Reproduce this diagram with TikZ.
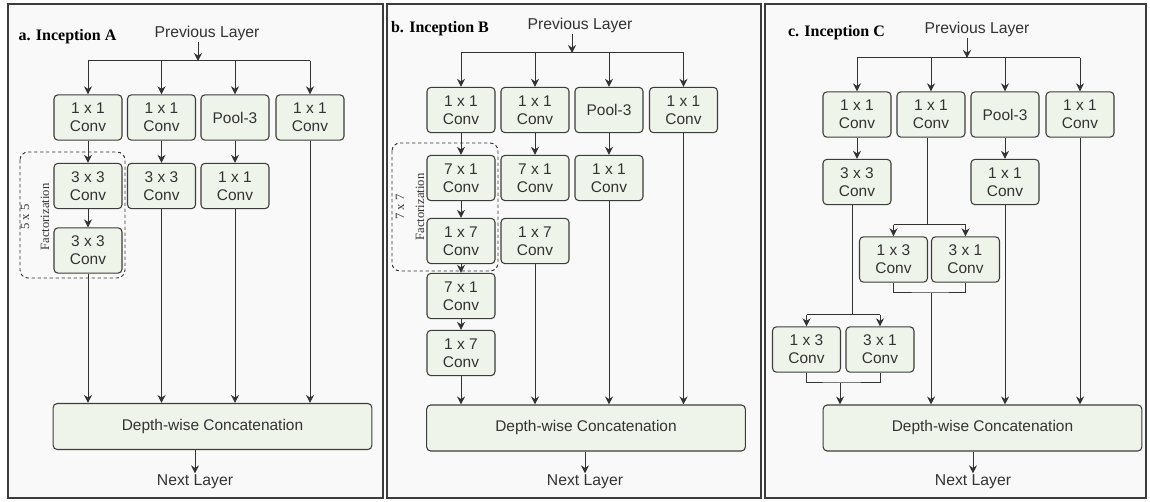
\documentclass[tikz,border=0pt]{standalone}
\usepackage{fontspec}
\setmainfont{Liberation Serif}
\setsansfont{Liberation Sans}
\usetikzlibrary{arrows.meta}

\definecolor{boxfill}{HTML}{EFF4EA}
\definecolor{boxline}{HTML}{3C3C3C}
\definecolor{panelfill}{HTML}{F9F9F9}
\definecolor{inkgray}{HTML}{333333}

\tikzset{
  panel/.style={draw=boxline, line width=1pt, fill=panelfill},
  conv/.style={draw=boxline, fill=boxfill, rounded corners=3pt, line width=0.8pt,
    minimum width=51pt, minimum height=34pt, align=center, inner sep=1pt,
    text=inkgray, font=\sffamily\fontsize{11.6}{13.5}\selectfont},
  concat/.style={conv, minimum width=239pt, minimum height=34.5pt},
  layer/.style={inner sep=1pt, text=inkgray, font=\sffamily\fontsize{11.8}{13}\selectfont},
  heading/.style={inner sep=0pt, font=\bfseries\fontsize{12}{13}\selectfont},
  group/.style={draw=inkgray, dash pattern=on 2.5pt off 2pt, rounded corners=6pt, line width=0.7pt},
  grouplbl/.style={rotate=90, align=center, text=inkgray, font=\fontsize{9.5}{15}\selectfont},
  wire/.style={draw=inkgray, line width=0.75pt},
  flow/.style={wire, -{Stealth[length=6pt,width=6pt]}},
}

\begin{document}
\begin{tikzpicture}[x=0.75pt, y=-0.75pt]
  \fill[white] (0,0) rectangle (1150,502);
  \useasboundingbox (0,0) rectangle (1150,502);
  \draw[panel] (8,4) rectangle (383,498);
  \draw[panel] (387,4) rectangle (761,498);
  \draw[panel] (765,4) rectangle (1146,498);

  % a. Inception A
  \node[heading] (aTitle) at (67.5,37) {a. Inception A};
  \node[layer] (aPrev) at (207,33) {Previous Layer};
  \node[conv] (aA1) at (88,117.5) {1 x 1\\Conv};
  \node[conv] (aB1) at (161.5,117.5) {1 x 1\\Conv};
  \node[conv] (aC1) at (235,117.5) {Pool-3};
  \node[conv] (aD1) at (310,117.5) {1 x 1\\Conv};
  \node[conv] (aA2) at (88,186) {3 x 3\\Conv};
  \node[conv] (aB2) at (161.5,186) {3 x 3\\Conv};
  \node[conv] (aC2) at (235,186) {1 x 1\\Conv};
  \node[conv] (aA3) at (88,250.5) {3 x 3\\Conv};
  \node[concat] (aCat) at (212.5,426.5) {Depth-wise Concatenation};
  \node[layer] (aNext) at (195,482) {Next Layer};
  \draw[group] (20,152) rectangle (125,278);
  \node[grouplbl] (aFact) at (35,217) {5 x 5\\Factorization};
  \coordinate (aSplit) at (198,61);
  \draw[flow] (aPrev.south -| aSplit) -- (aSplit);
  \draw[wire] (aA1.north |- aSplit) -- (aD1.north |- aSplit);
  \draw[flow] (aA1.north |- aSplit) -- (aA1.north);
  \draw[flow] (aB1.north |- aSplit) -- (aB1.north);
  \draw[flow] (aC1.north |- aSplit) -- (aC1.north);
  \draw[flow] (aD1.north |- aSplit) -- (aD1.north);
  \draw[flow] (aA1) -- (aA2);
  \draw[flow] (aA2) -- (aA3);
  \draw[flow] (aB1) -- (aB2);
  \draw[flow] (aC1) -- (aC2);
  \draw[flow] (aA3.south) -- (aA3.south |- aCat.north);
  \draw[flow] (aB2.south) -- (aB2.south |- aCat.north);
  \draw[flow] (aC2.south) -- (aC2.south |- aCat.north);
  \draw[flow] (aD1.south) -- (aD1.south |- aCat.north);
  \draw[flow] (aCat.south -| aNext) -- (aNext);

  % b. Inception B
  \node[heading] (bTitle) at (440,29) {b. Inception B};
  \node[layer] (bPrev) at (580,25) {Previous Layer};
  \node[conv] (bA1) at (461,110) {1 x 1\\Conv};
  \node[conv] (bB1) at (535,110) {1 x 1\\Conv};
  \node[conv] (bC1) at (609,110) {Pool-3};
  \node[conv] (bD1) at (683.5,110) {1 x 1\\Conv};
  \node[conv] (bA2) at (461,178) {7 x 1\\Conv};
  \node[conv] (bB2) at (535,178) {7 x 1\\Conv};
  \node[conv] (bC2) at (609,178) {1 x 1\\Conv};
  \node[conv] (bA3) at (461,241) {1 x 7\\Conv};
  \node[conv] (bB3) at (535,241) {1 x 7\\Conv};
  \node[conv] (bA4) at (461,296) {7 x 1\\Conv};
  \node[conv] (bA5) at (461,353) {1 x 7\\Conv};
  \node[concat] (bCat) at (586,428) {Depth-wise Concatenation};
  \node[layer] (bNext) at (585,482) {Next Layer};
  \draw[group] (392,143) rectangle (498,271);
  \node[grouplbl] (bFact) at (410,207) {7 x 7\\Factorization};
  \coordinate (bSplit) at (572,53);
  \draw[flow] (bPrev.south -| bSplit) -- (bSplit);
  \draw[wire] (bA1.north |- bSplit) -- (bD1.north |- bSplit);
  \draw[flow] (bA1.north |- bSplit) -- (bA1.north);
  \draw[flow] (bB1.north |- bSplit) -- (bB1.north);
  \draw[flow] (bC1.north |- bSplit) -- (bC1.north);
  \draw[flow] (bD1.north |- bSplit) -- (bD1.north);
  \draw[flow] (bA1) -- (bA2);
  \draw[flow] (bA2) -- (bA3);
  \draw[flow] (bA3) -- (bA4);
  \draw[flow] (bA4) -- (bA5);
  \draw[flow] (bB1) -- (bB2);
  \draw[flow] (bC1) -- (bC2);
  \draw[flow] (bA5.south) -- (bA5.south |- bCat.north);
  \draw[flow] (bB3.south) -- (bB3.south |- bCat.north);
  \draw[flow] (bC2.south) -- (bC2.south |- bCat.north);
  \draw[flow] (bD1.south) -- (bD1.south |- bCat.north);
  \draw[flow] (bCat.south -| bNext) -- (bNext);

  % c. Inception C
  \node[heading] (cTitle) at (836.5,33) {c. Inception C};
  \node[layer] (cPrev) at (977,29) {Previous Layer};
  \node[conv] (cA1) at (857,114.5) {1 x 1\\Conv};
  \node[conv] (cB1) at (931,114.5) {1 x 1\\Conv};
  \node[conv] (cC1) at (1005,114.5) {Pool-3};
  \node[conv] (cD1) at (1080,114.5) {1 x 1\\Conv};
  \node[conv] (cA2) at (857,182) {3 x 3\\Conv};
  \node[conv] (cC2) at (1005,182) {1 x 1\\Conv};
  \node[conv] (cB3) at (893.5,259.5) {1 x 3\\Conv};
  \node[conv] (cB4) at (965.5,259.5) {3 x 1\\Conv};
  \node[conv] (cA4) at (806.5,349.5) {1 x 3\\Conv};
  \node[conv] (cA5) at (880,349.5) {3 x 1\\Conv};
  \node[concat] (cCat) at (982.5,428) {Depth-wise Concatenation};
  \node[layer] (cNext) at (973,482) {Next Layer};
  \coordinate (cSplit) at (967,58);
  \draw[flow] (cPrev.south -| cSplit) -- (cSplit);
  \draw[wire] (cA1.north |- cSplit) -- (cD1.north |- cSplit);
  \draw[flow] (cA1.north |- cSplit) -- (cA1.north);
  \draw[flow] (cB1.north |- cSplit) -- (cB1.north);
  \draw[flow] (cC1.north |- cSplit) -- (cC1.north);
  \draw[flow] (cD1.north |- cSplit) -- (cD1.north);
  \draw[flow] (cA1) -- (cA2);
  \draw[flow] (cC1) -- (cC2);
  % split after the middle 1 x 1
  \coordinate (cForkB) at (927,225);
  \draw[wire] (cB1.south -| cForkB) -- (cForkB);
  \draw[wire] (cB3.north |- cForkB) -- (cB4.north |- cForkB);
  \draw[flow] (cB3.north |- cForkB) -- (cB3.north);
  \draw[flow] (cB4.north |- cForkB) -- (cB4.north);
  \coordinate (cJoinB) at (931,293);
  \draw[wire] (cB3.south) |- (cJoinB) -| (cB4.south);
  \draw[flow] (cJoinB) -- (cJoinB |- cCat.north);
  % split after the 3 x 3
  \coordinate (cForkA) at (852,315);
  \draw[wire] (cA2.south -| cForkA) -- (cForkA);
  \draw[wire] (cA4.north |- cForkA) -- (cA5.north |- cForkA);
  \draw[flow] (cA4.north |- cForkA) -- (cA4.north);
  \draw[flow] (cA5.north |- cForkA) -- (cA5.north);
  \coordinate (cJoinA) at (840,383);
  \draw[wire] (cA4.south) |- (cJoinA) -| (cA5.south);
  \draw[flow] (cJoinA) -- (cJoinA |- cCat.north);
  \draw[flow] (cC2.south) -- (cC2.south |- cCat.north);
  \draw[flow] (cD1.south) -- (cD1.south |- cCat.north);
  \draw[flow] (cCat.south -| cNext) -- (cNext);
\end{tikzpicture}
\end{document}
